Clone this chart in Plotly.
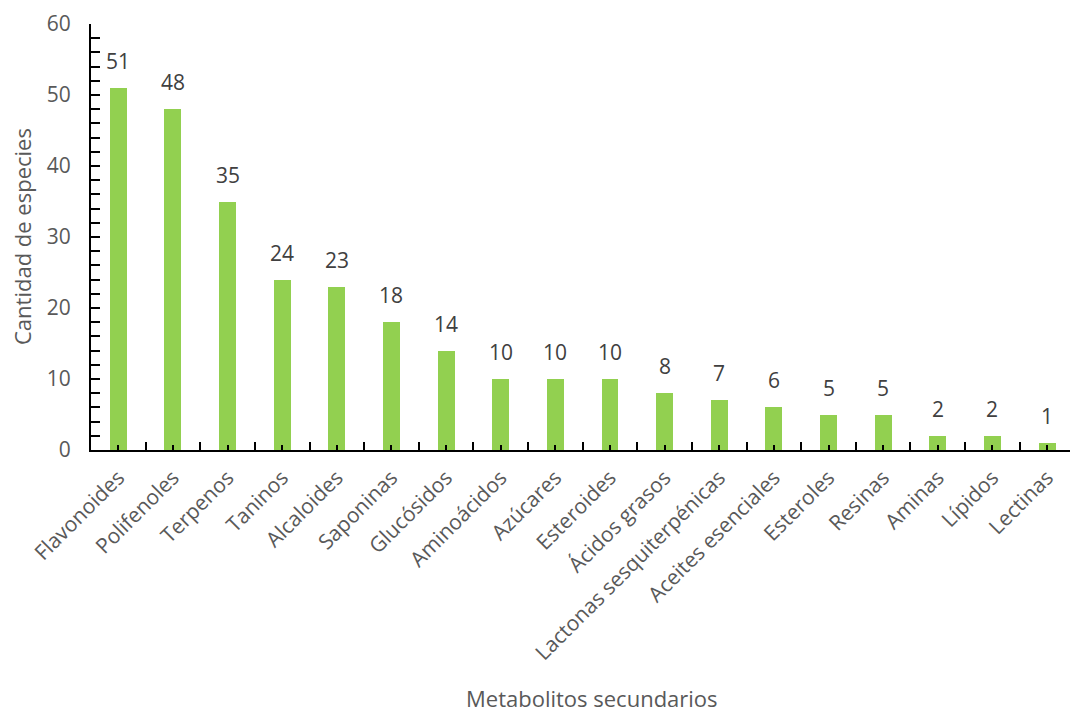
import plotly.graph_objects as go

categories = ["Flavonoides", "Polifenoles", "Terpenos", "Taninos", "Alcaloides", "Saponinas",
              "Glucósidos", "Aminoácidos", "Azúcares", "Esteroides", "Ácidos grasos",
              "Lactonas sesquiterpénicas", "Aceites esenciales", "Esteroles", "Resinas",
              "Aminas", "Lípidos", "Lectinas"]
values = [51, 48, 35, 24, 23, 18, 14, 10, 10, 10, 8, 7, 6, 5, 5, 2, 2, 1]
y_ticks = [0, 10, 20, 30, 40, 50, 60]

FONT = "'Open Sans', sans-serif"
idx = list(range(len(categories)))

L, R, T, B = 91, 0, 24, 265
plot_w = 1070 - L - R
plot_h = 715 - T - B

fig = go.Figure()
fig.add_trace(go.Bar(x=idx, y=values, width=0.31, marker_color="#92D050",
                     marker_line_width=0, hoverinfo="x+y"))

for i, v in zip(idx, values):
    fig.add_annotation(x=i, y=v, text=str(v), showarrow=False, yanchor="bottom",
                       yshift=11, font=dict(family=FONT, size=21, color="#404040"))

fig.add_annotation(x=(592 - L) / plot_w, y=(715 - B - 714) / plot_h, xref="paper", yref="paper",
                   text="Metabolitos secundarios", showarrow=False,
                   xanchor="center", yanchor="bottom", borderpad=0,
                   font=dict(family=FONT, size=22, color="#595959"))
fig.add_annotation(x=(22 - L) / plot_w, y=(450 - 237) / plot_h, xref="paper", yref="paper",
                   text="Cantidad de especies", showarrow=False, textangle=-90,
                   xanchor="center", yanchor="middle",
                   font=dict(family=FONT, size=22, color="#595959"))

fig.update_layout(
    width=1070, height=715,
    margin=dict(l=L, r=R, t=T, b=B),
    plot_bgcolor="white", paper_bgcolor="white",
    showlegend=False,
    font=dict(family=FONT, size=21, color="#595959"),
    bargap=0,
)

fig.update_xaxes(
    range=[-0.5, 17.42],
    tickmode="array", tickvals=idx, ticktext=categories, tickangle=-45,
    ticks="inside", ticklen=5, tickwidth=2, tickcolor="black",
    showline=True, linecolor="black", linewidth=2,
    showgrid=False, zeroline=False, ticklabelstandoff=5,
    tickfont=dict(family=FONT, size=21, color="#595959"),
    minor=dict(tickvals=[i + 0.5 for i in idx[:-1]], ticks="inside", ticklen=8,
               tickwidth=2, tickcolor="black", showgrid=False),
)
fig.update_yaxes(
    range=[0, 60], tickmode="array", tickvals=y_ticks,
    ticks="inside", ticklen=9, tickwidth=2, tickcolor="black",
    showline=True, linecolor="black", linewidth=2,
    showgrid=False, zeroline=False, ticklabelstandoff=14,
    tickfont=dict(family=FONT, size=21, color="#595959"),
    minor=dict(dtick=2, tick0=0, ticks="inside", ticklen=9, tickwidth=2,
               tickcolor="black", showgrid=False),
)

fig.write_html("out.html")
